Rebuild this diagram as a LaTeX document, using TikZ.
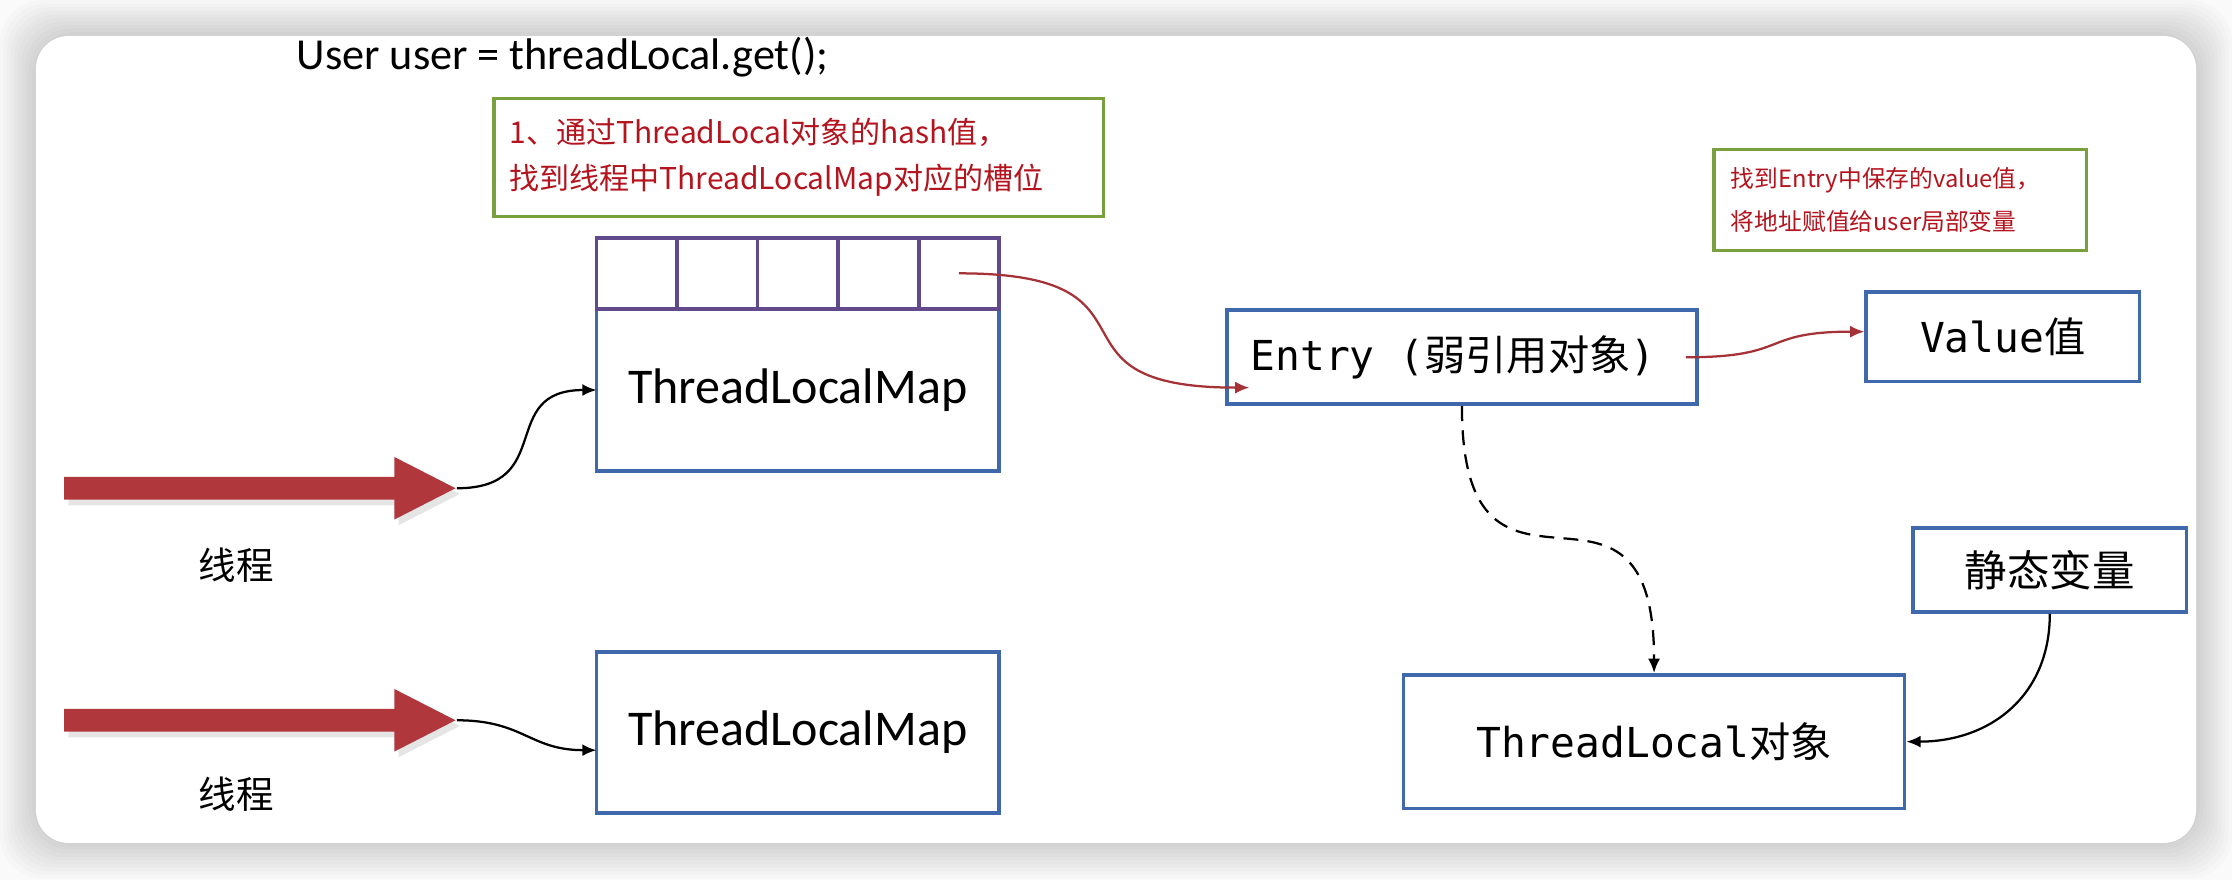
\documentclass[tikz,border=0pt]{standalone}
\usepackage{fontspec}
\setmainfont{Carlito}
\setmonofont{DejaVu Sans Mono}
\newfontfamily\cjk{Noto Sans CJK SC}
\usetikzlibrary{arrows.meta,positioning}
\definecolor{TlBlue}{RGB}{64,104,172}
\definecolor{TlPurple}{RGB}{96,74,140}
\definecolor{TlGreen}{RGB}{122,160,62}
\definecolor{TlNoteRed}{RGB}{180,20,30}
\definecolor{TlCurveRed}{RGB}{165,50,55}
\definecolor{TlArrowRed}{RGB}{176,56,60}
\tikzset{
  tl/box/.style={
    draw=TlBlue,
    line width=1.5pt,
    fill=white,
    inner sep=0pt,
    align=center,
    font=\fontsize{16.5}{20}\selectfont
  },
  tl/map/.style={
    tl/box,
    outer sep=0pt,
    minimum width=5.66cm,
    font=\fontsize{20}{24}\selectfont
  },
  tl/slot/.style={
    draw=TlPurple,
    line width=1.5pt,
    outer sep=0pt,
    minimum width=1.132cm,
    minimum height=1cm,
    inner sep=0pt
  },
  tl/note/.style={
    draw=TlGreen,
    line width=1.3pt,
    fill=white,
    align=left,
    text=TlNoteRed,
    inner ysep=0pt
  },
  tl/label/.style={font=\cjk\fontsize{15}{15}\selectfont, inner sep=0pt},
  tl/link/.style={-{Latex[length=2mm,width=1.7mm]}, line width=0.9pt},
  tl/redlink/.style={tl/link, draw=TlCurveRed},
  tl/dashlink/.style={tl/link, dash pattern=on 2.1mm off 1.3mm},
  tl/thread/.style={fill=TlArrowRed}
}
\begin{document}
\begin{tikzpicture}[x=0.02cm,y=-0.02cm]
  \useasboundingbox (0,0) rectangle (1568,618);
  \fill[white!98!black] (0,0) rectangle (1568,618);
  \foreach \k in {1,...,10}
    \fill[black,opacity=0.014,rounded corners=0.6cm] (25-2.5*\k,25-2.5*\k) rectangle (1543+2.5*\k,592+2.5*\k);
  \fill[white,rounded corners=0.46cm] (25.3,25.3) rectangle (1542.7,592.2);

  \node[anchor=base west, inner sep=0pt, font=\fontsize{17.7}{20}\selectfont] (code) at (208,49) {User user = threadLocal.get();};

  \node[tl/note, text width=8.12cm, inner xsep=0.22cm, minimum height=1.66cm, font=\cjk\fontsize{12}{18.2}\selectfont] (hint1) at (561,110.5)
    {1、通过ThreadLocal对象的hash值，\\找到线程中ThreadLocalMap对应的槽位};
  \node[tl/note, text width=4.76cm, inner xsep=0.24cm, minimum height=1.42cm, font=\cjk\fontsize{9.5}{17}\selectfont] (hint2) at (1335,140.5)
    {找到Entry中保存的value值，\\将地址赋值给user局部变量};

  \node[tl/map, minimum height=2.28cm] (map1) at (560.5,274) {ThreadLocalMap};
  \node[tl/map, minimum height=2.26cm] (map2) at (560.5,514.5) {ThreadLocalMap};
  \node[tl/slot, anchor=south west] (s1) at (map1.north west) {};
  \foreach \i [count=\j from 1] in {2,...,5}
    \node[tl/slot, right=0pt of s\j] (s\i) {};

  \node[tl/box, minimum width=6.6cm, minimum height=1.32cm] (entry) at (1027,251)
    {{\ttfamily Entry (}{\cjk 弱引用对象}{\ttfamily )}\hspace{0.25cm}};
  \node[tl/box, minimum width=3.84cm, minimum height=1.26cm] (value) at (1407,236.5)
    {{\ttfamily Value}{\cjk 值}};
  \node[tl/box, minimum width=3.84cm, minimum height=1.18cm, font=\cjk\fontsize{17}{20}\selectfont] (static) at (1440,400.5) {静态变量};
  \node[tl/box, minimum width=7.04cm, minimum height=1.88cm] (tl) at (1162,521)
    {{\ttfamily ThreadLocal}{\cjk 对象}};

  \foreach \y/\n in {343/t1,506/t2}{
    \fill[black,opacity=0.1,shift={(3,4)}] (45,\y-8) -- (277,\y-8) -- (277,\y-22) -- (320,\y) -- (277,\y+22) -- (277,\y+8) -- (45,\y+8) -- cycle;
    \fill[tl/thread] (45,\y-8) -- (277,\y-8) -- (277,\y-22) -- (320,\y) -- (277,\y+22) -- (277,\y+8) -- (45,\y+8) -- cycle;
    \coordinate (\n) at (321,\y);
  }
  \node[tl/label] (name1) at (166,397) {线程};
  \node[tl/label] (name2) at (166,558) {线程};

  \draw[tl/link] (t1) to[out=0,in=180,looseness=1.5] (map1.west);
  \draw[tl/link] (t2) to[out=0,in=180,looseness=1.2] ([yshift=-0.25cm]map2.west);
  \draw[tl/redlink] (s5.center) to[out=0,in=180,looseness=1.8] ([xshift=0.34cm,yshift=0.26cm]entry.south west);
  \draw[tl/redlink] ([xshift=-0.18cm]entry.east) to[out=0,in=180,looseness=1.5] ([yshift=0.07cm]value.west);
  \draw[tl/dashlink] (entry.south) to[out=-90,in=90,looseness=1.9] (tl.north);
  \draw[tl/link] (static.south) to[out=-90,in=0,looseness=1.1] (tl.east);
\end{tikzpicture}
\end{document}
